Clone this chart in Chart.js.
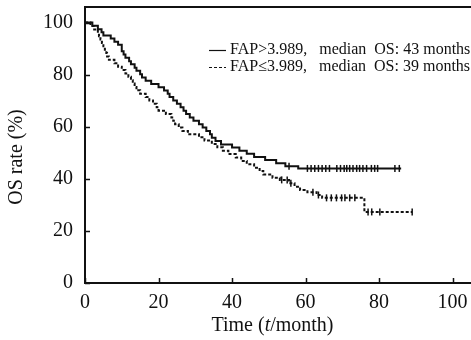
<!DOCTYPE html>
<html>
<head>
<meta charset="utf-8">
<script src="https://cdn.jsdelivr.net/npm/chart.js@4"></script>
<style>
  html, body { margin: 0; padding: 0; background: #fff; }
  #wrap { width: 471px; height: 340px; }
</style>
</head>
<body>
<div id="wrap"><canvas id="km"></canvas></div>
<script>
// Kaplan-Meier steps, time in months, OS rate in %
const highTimes = [0, 2, 3.5, 4.5, 5, 7, 8, 9, 10, 10.5, 11, 12, 12.5, 13.5, 14, 15, 15.5, 16.5, 18, 20,
  21.5, 22.5, 23, 24, 25, 26, 26.8, 27.5, 28.5, 29.5, 31, 32, 33, 34, 34.5, 35.5, 37, 40, 42, 44,
  46, 49, 52, 54.5, 58, 86];
const highRates = [100, 98.8, 97.5, 96.3, 95.1, 93.9, 92.7, 91.5, 89, 87.8, 86.5, 85.2, 84, 82.7, 81.5, 80.2, 78.9, 77.7, 76.4, 75.2,
  73.9, 72.7, 71.4, 70.1, 68.8, 67.5, 66.2, 64.9, 63.6, 62.3, 61, 59.7, 58.4, 57.1, 55.8, 54.5, 53.2, 52, 50.8, 49.6,
  48.4, 47.2, 46, 44.8, 44, 44];

const lowTimes = [0, 1.5, 2.5, 3.5, 3.8, 4.2, 4.6, 5, 5.4, 5.8, 6, 6.5, 8, 9, 10, 11, 11.8, 12.5, 13, 13.5,
  14, 15, 16.5, 17.5, 18.5, 19.5, 20, 22, 23.5, 24, 24.5, 25.5, 26.5, 28, 31, 32.5, 34.5, 36, 37.5, 39,
  41, 42.5, 44, 46, 47.5, 48.5, 51, 53, 55.5, 57, 58.5, 60.5, 63, 64.5, 76, 89];
const lowRates = [100, 98.7, 97.4, 96.1, 94.8, 93.5, 92.2, 90.9, 89.6, 88.3, 87, 85.7, 84.4, 83.1, 81.8, 80.5, 79.2, 77.9, 76.6, 75.3,
  74, 72.7, 71.4, 70.1, 68.8, 67.5, 66.2, 64.9, 63.6, 62.3, 61, 59.7, 58.4, 57.1, 56, 54.7, 53.4, 52.1, 50.8, 49.5,
  48.2, 46.9, 45.6, 44.3, 43, 41.7, 40.4, 39.6, 38.3, 37, 35.7, 34.9, 33.8, 32.7, 27.3, 27.3];

// censored observations (months)
const highCensor = [55.5, 60.5, 61.5, 62.5, 63.5, 64.5, 65.5, 66.5, 68.5, 69.5, 70.5, 71.2, 72, 72.9, 73.9,
  74.7, 75.6, 76.6, 77.9, 78.8, 79.6, 84.3, 85.5];
const lowCensor = [53.5, 55, 56, 62, 63.5, 65.7, 67, 68.4, 69.8, 70.7, 72, 73.4, 77, 78, 80.2, 89];

const legendLabels = ['FAP>3.989,   median  OS: 43 months', 'FAP\u22643.989,   median  OS: 39 months'];
const xTicks = [0, 20, 40, 60, 80, 100];
const yTicks = [0, 20, 40, 60, 80, 100];

const ink = '#111';
const serif = '"Liberation Serif", "Times New Roman", serif';

function steps(times, rates) {
  return times.map((t, i) => ({ x: t, y: rates[i] }));
}

// rate of the curve at a censored time
function rateAt(times, rates, t) {
  let r = rates[0];
  for (let i = 0; i < times.length; i++) {
    if (times[i] <= t) r = rates[i];
  }
  return r;
}

function censorPoints(list, times, rates) {
  return list.map(t => ({ x: t, y: rateAt(times, rates, t) }));
}

// frame, inward ticks, legend and titles
const decor = {
  id: 'decor',
  afterDraw(chart) {
    const { ctx, chartArea: a, scales: { x, y } } = chart;
    ctx.save();
    ctx.strokeStyle = ink;
    ctx.fillStyle = ink;

    ctx.lineWidth = 2;
    ctx.beginPath();
    ctx.moveTo(a.left - 1, a.top);
    ctx.lineTo(a.right, a.top);
    ctx.stroke();

    ctx.lineWidth = 1.5;
    ctx.beginPath();
    xTicks.forEach(v => {
      const px = Math.round(x.getPixelForValue(v)) + 0.5;
      ctx.moveTo(px, a.bottom);
      ctx.lineTo(px, a.bottom - 5);
    });
    yTicks.forEach(v => {
      const py = Math.round(y.getPixelForValue(v)) + 0.5;
      ctx.moveTo(a.left, py);
      ctx.lineTo(a.left + 5, py);
    });
    ctx.stroke();

    // legend
    const rows = [50, 67];
    ctx.font = '16px ' + serif;
    ctx.textAlign = 'left';
    ctx.textBaseline = 'middle';
    ctx.lineWidth = 1.2;
    rows.forEach((ry, i) => {
      ctx.setLineDash(i === 0 ? [] : [3, 2]);
      ctx.beginPath();
      ctx.moveTo(209, ry + 0.5);
      ctx.lineTo(226, ry + 0.5);
      ctx.stroke();
      ctx.fillText(legendLabels[i], 230, ry);
    });
    ctx.setLineDash([]);

    // y title
    ctx.font = '20px ' + serif;
    ctx.textAlign = 'center';
    ctx.save();
    ctx.translate(17, 157);
    ctx.rotate(-Math.PI / 2);
    ctx.fillText('OS rate (%)', 0, 0);
    ctx.restore();

    // x title with italic t
    const parts = [['Time (', ''], ['t', 'italic '], ['/month)', '']];
    let w = 0;
    parts.forEach(p => { ctx.font = p[1] + '20px ' + serif; w += ctx.measureText(p[0]).width; });
    let tx = 272.5 - w / 2;
    ctx.textAlign = 'left';
    parts.forEach(p => {
      ctx.font = p[1] + '20px ' + serif;
      ctx.fillText(p[0], tx, 326);
      tx += ctx.measureText(p[0]).width;
    });
    ctx.restore();
  }
};

new Chart(document.getElementById('km'), {
  type: 'line',
  data: {
    datasets: [
      {
        label: legendLabels[0],
        data: steps(highTimes, highRates),
        stepped: true,
        borderColor: ink,
        borderWidth: 2,
        pointRadius: 0,
        fill: false
      },
      {
        label: legendLabels[1],
        data: steps(lowTimes, lowRates),
        stepped: true,
        borderColor: ink,
        borderWidth: 2,
        borderDash: [3, 2],
        pointRadius: 0,
        fill: false
      },
      {
        label: 'censor high',
        data: censorPoints(highCensor, highTimes, highRates),
        showLine: false,
        pointStyle: 'line',
        rotation: 90,
        pointRadius: 3.5,
        pointBorderWidth: 1.5,
        borderColor: ink
      },
      {
        label: 'censor low',
        data: censorPoints(lowCensor, lowTimes, lowRates),
        showLine: false,
        pointStyle: 'line',
        rotation: 90,
        pointRadius: 3.5,
        pointBorderWidth: 1.5,
        borderColor: ink
      }
    ]
  },
  options: {
    responsive: true,
    maintainAspectRatio: false,
    animation: false,
    layout: { autoPadding: false, padding: { top: 7, right: 0, left: 0, bottom: 0 } },
    plugins: {
      legend: { display: false },
      tooltip: { enabled: false }
    },
    scales: {
      x: {
        type: 'linear',
        min: 0,
        max: 105,
        afterBuildTicks: s => { s.ticks = xTicks.map(v => ({ value: v })); },
        afterFit: s => { s.height = 57; s.paddingLeft = 0; s.paddingRight = 0; },
        grid: { display: true, drawOnChartArea: false, drawTicks: false },
        border: { display: true, color: ink, width: 2 },
        ticks: { color: ink, padding: 8, font: { family: serif, size: 20 } }
      },
      y: {
        min: 0,
        max: 106,
        afterBuildTicks: s => { s.ticks = yTicks.map(v => ({ value: v })); },
        afterFit: s => { s.width = 85; s.paddingTop = 0; s.paddingBottom = 0; },
        grid: { display: true, drawOnChartArea: false, drawTicks: false },
        border: { display: true, color: ink, width: 2 },
        ticks: { color: ink, padding: 12, font: { family: serif, size: 20 } }
      }
    }
  },
  plugins: [decor]
});
</script>
</body>
</html>
